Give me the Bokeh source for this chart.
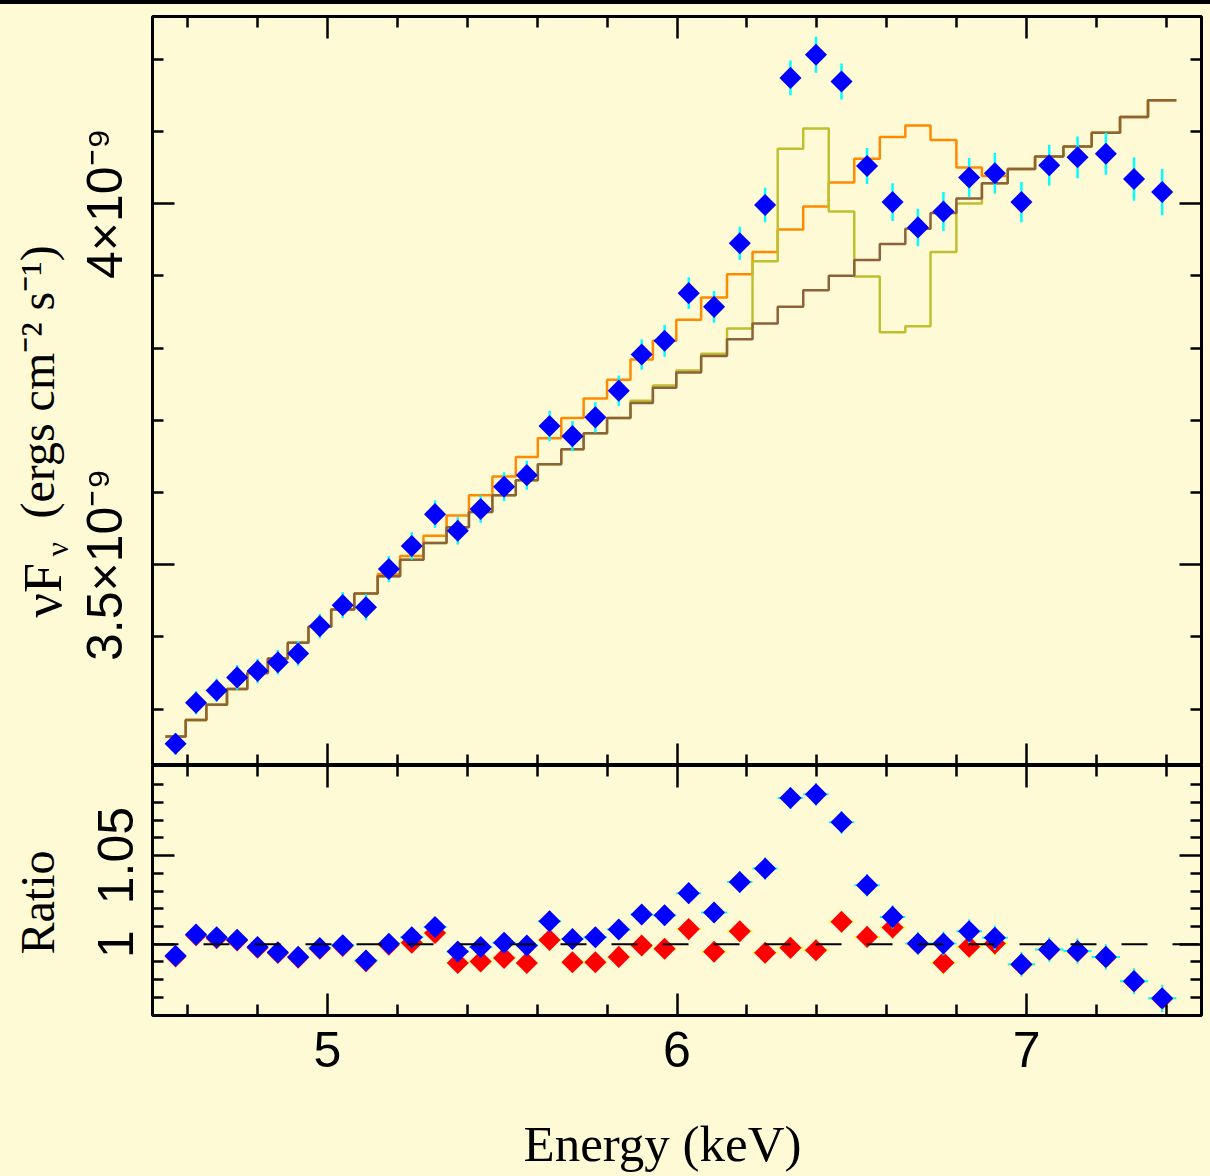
import numpy as np
from bokeh.plotting import figure
from bokeh.models import (ColumnDataSource, Range1d, LinearAxis, FixedTicker,
                          CustomJSTickFormatter, Span, Div)
from bokeh.core.properties import value
from bokeh.layouts import column, row
from bokeh.embed import file_html
from bokeh.resources import INLINE

# ---------------- data (energies in keV, fluxes in units of 1e-9 erg cm^-2 s^-1) -------------
bin_edges = [4.537, 4.595, 4.654, 4.713, 4.771, 4.830, 4.887, 4.946, 5.011, 5.077,
             5.144, 5.208, 5.275, 5.341, 5.405, 5.472, 5.539, 5.602, 5.669, 5.733,
             5.800, 5.867, 5.931, 5.998, 6.069, 6.143, 6.216, 6.288, 6.361, 6.434,
             6.507, 6.580, 6.653, 6.725, 6.799, 6.872, 6.946, 7.024, 7.105, 7.186,
             7.267, 7.347, 7.428]

flux = [3.252, 3.309, 3.326, 3.344, 3.353, 3.365, 3.377, 3.415, 3.444, 3.441,
        3.494, 3.526, 3.570, 3.547, 3.577, 3.608, 3.624, 3.692, 3.678, 3.704,
        3.741, 3.791, 3.810, 3.876, 3.857, 3.945, 3.998, 4.174, 4.206, 4.169,
        4.052, 4.002, 3.967, 3.989, 4.036, 4.042, 4.002, 4.053, 4.064, 4.069,
        4.034, 4.016]

flux_err = [0.015, 0.016, 0.016, 0.017, 0.017, 0.017, 0.017, 0.017, 0.018, 0.018,
            0.018, 0.019, 0.019, 0.019, 0.019, 0.020, 0.020, 0.021, 0.021, 0.021,
            0.021, 0.021, 0.022, 0.022, 0.022, 0.023, 0.024, 0.024, 0.025, 0.025,
            0.025, 0.026, 0.026, 0.027, 0.027, 0.028, 0.028, 0.028, 0.029, 0.029,
            0.030, 0.032]

model_continuum = [3.262, 3.285, 3.306, 3.328, 3.350, 3.370, 3.392, 3.414, 3.438, 3.460,
                   3.484, 3.507, 3.530, 3.552, 3.573, 3.596, 3.617, 3.639, 3.660, 3.682,
                   3.703, 3.724, 3.745, 3.766, 3.789, 3.812, 3.834, 3.857, 3.880, 3.900,
                   3.922, 3.944, 3.965, 3.987, 4.007, 4.028, 4.048, 4.065, 4.079, 4.098,
                   4.120, 4.143]

model_broad = [3.262, 3.285, 3.306, 3.328, 3.350, 3.370, 3.392, 3.414, 3.438, 3.460,
               3.487, 3.512, 3.540, 3.568, 3.596, 3.622, 3.649, 3.675, 3.703, 3.730,
               3.756, 3.784, 3.810, 3.839, 3.870, 3.902, 3.933, 3.964, 3.996, 4.029,
               4.062, 4.092, 4.108, 4.088, 4.050, 4.038, 4.048, 4.065, 4.079, 4.098,
               4.120, 4.143]

model_narrow = [3.262, 3.285, 3.306, 3.328, 3.350, 3.370, 3.392, 3.414, 3.438, 3.460,
                3.484, 3.507, 3.530, 3.552, 3.573, 3.596, 3.617, 3.639, 3.660, 3.682,
                3.703, 3.727, 3.748, 3.769, 3.792, 3.827, 3.920, 4.076, 4.104, 3.989,
                3.899, 3.822, 3.830, 3.933, 4.000, 4.028, 4.048, 4.065, 4.079, 4.098,
                4.120, 4.143]

ratio_blue = [0.9934, 1.0055, 1.0039, 1.0025, 0.9984, 0.9954, 0.9928, 0.9978, 0.9994, 0.9908,
              1.0002, 1.0039, 1.0097, 0.9958, 0.9984, 1.0008, 0.9992, 1.0129, 1.0029, 1.0039,
              1.0083, 1.0167, 1.0163, 1.0288, 1.0179, 1.0351, 1.0427, 1.0825, 1.0846, 1.0688,
              1.0333, 1.0154, 1.0004, 1.0004, 1.0073, 1.0036, 0.9886, 0.9970, 0.9961, 0.9928,
              0.9791, 0.9694]

ratio_red = [0.9930, 1.0050, 1.0034, 1.0021, 0.9980, 0.9950, 0.9924, 0.9974, 0.9990, 0.9903,
             0.9997, 1.0008, 1.0063, 0.9893, 0.9902, 0.9922, 0.9893, 1.0023, 0.9898, 0.9898,
             0.9928, 0.9992, 0.9974, 1.0085, 0.9957, 1.0073, 0.9951, 0.9979, 0.9966, 1.0126,
             1.0041, 1.0094, 1.0002, 0.9895, 0.9985, 1.0004, 0.9884, 0.9968, 0.9959, 0.9926,
             0.9789, 0.9692]

x_major = [5, 6, 7]
x_minor = [4.6, 4.8, 5.2, 5.4, 5.6, 5.8, 6.2, 6.4, 6.6, 6.8, 7.2, 7.4]
flux_major = [3.5, 4.0]
flux_minor = [3.3, 3.4, 3.6, 3.7, 3.8, 3.9, 4.1, 4.2]
ratio_major = [1.0, 1.05]
ratio_minor = [0.97, 0.98, 0.99, 1.01, 1.02, 1.03, 1.04, 1.06, 1.07, 1.08, 1.09]

# ---------------- derived columns -------------
edges = np.array(bin_edges)
lo, hi = edges[:-1], edges[1:]
centers = (lo + hi) / 2
f = np.array(flux)
fe = np.array(flux_err)
cont = np.array(model_continuum)
broad = np.array(model_broad)
rb = np.array(ratio_blue)
rr = np.array(ratio_red)
rbe = fe / cont
rre = fe / broad

src = ColumnDataSource(dict(x=centers, lo=lo, hi=hi, f=f, f0=f - fe, f1=f + fe,
                            rb=rb, rb0=rb - rbe, rb1=rb + rbe,
                            rr=rr, rr0=rr - rre, rr1=rr + rre))


def stepped(vals):
    return list(vals) + [vals[-1]]


BG = "#FFFAD6"
SANS = "Liberation Sans"
SERIF = "Liberation Serif"
xr = Range1d(4.5, 7.5)

TITLE_W = 74
MAIN_W = 1210 - TITLE_W
BOT_H = 345          # ratio frame (250 px) + tick-label strip
XT_H = 1176 - 4 - 761 - BOT_H


def make_fig(height, yr, mb_top, mb_bottom):
    return figure(width=MAIN_W, height=height, x_range=xr, y_range=yr,
                  output_backend="svg", toolbar_location=None,
                  x_axis_type=None, y_axis_type=None,
                  min_border_left=151 - TITLE_W, min_border_right=9,
                  min_border_top=mb_top, min_border_bottom=mb_bottom,
                  background_fill_color=BG, border_fill_color=BG,
                  outline_line_color="black", outline_line_width=3)


def add_axis(p, side, major, minor, code, size="0px", orient="horizontal", standoff=0):
    ax = LinearAxis(ticker=FixedTicker(ticks=major, minor_ticks=minor),
                    formatter=CustomJSTickFormatter(code=code),
                    axis_line_color=None,
                    major_tick_in=22, major_tick_out=0,
                    minor_tick_in=11, minor_tick_out=0,
                    major_tick_line_width=2.5, minor_tick_line_width=2.5,
                    major_tick_line_color="black", minor_tick_line_color="black",
                    major_label_text_font=SANS, major_label_text_font_size=size,
                    major_label_text_color="black",
                    major_label_standoff=standoff,
                    major_label_orientation=orient)
    p.add_layout(ax, side)
    return ax


EMPTY = "return '';"

# ---------------- top panel -------------
top = make_fig(761, Range1d(3.222, 4.259), 12, 0)
add_axis(top, "left", flux_major, flux_minor,
         "if (Math.abs(tick-4)<1e-6) return '4×10⁻⁹'; if (Math.abs(tick-3.5)<1e-6) return '3.5×10⁻⁹'; return '';",
         size="50px", orient="vertical", standoff=19)
add_axis(top, "right", flux_major, flux_minor, EMPTY)
add_axis(top, "above", x_major, x_minor, EMPTY)
add_axis(top, "below", x_major, x_minor, EMPTY)

top.step(x=bin_edges, y=stepped(model_broad), mode="after", line_color="#FF8A00", line_width=2.5)
top.step(x=bin_edges, y=stepped(model_narrow), mode="after", line_color="#BFBF30", line_width=2.5)
top.step(x=bin_edges, y=stepped(model_continuum), mode="after", line_color="#8C6239", line_width=2.5)
top.segment(x0="x", y0="f0", x1="x", y1="f1", source=src, line_color="#00FFFF", line_width=2.5)
top.scatter(x="x", y="f", source=src, marker="square", size=15.6, angle=np.pi / 4,
            fill_color="#0000FF", line_color=None)

# ---------------- ratio panel -------------
bot = make_fig(BOT_H, Range1d(0.9597, 1.1009), 0, BOT_H - 250)
add_axis(bot, "left", ratio_major, ratio_minor,
         "if (Math.abs(tick-1)<1e-6) return '1'; if (Math.abs(tick-1.05)<1e-6) return '1.05'; return '';",
         size="50px", orient="vertical", standoff=19)
add_axis(bot, "right", ratio_major, ratio_minor, EMPTY)
add_axis(bot, "above", x_major, x_minor, EMPTY)
add_axis(bot, "below", x_major, x_minor, "return tick.toFixed(0);", size="50px", standoff=16)

bot.add_layout(Span(location=1.0, dimension="width", line_color="black",
                    line_width=2, line_dash="26 25"))
bot.segment(x0="lo", y0="rr", x1="hi", y1="rr", source=src, line_color="#FFFF00", line_width=2)
bot.segment(x0="x", y0="rr0", x1="x", y1="rr1", source=src, line_color="#FFFF00", line_width=2)
bot.scatter(x="x", y="rr", source=src, marker="square", size=15.6, angle=np.pi / 4,
            fill_color="#FF0000", line_color=None)
bot.segment(x0="lo", y0="rb", x1="hi", y1="rb", source=src, line_color="#00FFFF", line_width=2)
bot.segment(x0="x", y0="rb0", x1="x", y1="rb1", source=src, line_color="#00FFFF", line_width=2)
bot.scatter(x="x", y="rb", source=src, marker="square", size=15.6, angle=np.pi / 4,
            fill_color="#0000FF", line_color=None)


# ---------------- title strips (page pixel coordinates) -------------
def strip(w, h, y_top, y_bottom):
    return figure(width=w, height=h, x_range=Range1d(0, w), y_range=Range1d(y_bottom, y_top),
                  output_backend="svg", toolbar_location=None, x_axis_type=None, y_axis_type=None,
                  min_border=0, min_border_left=0, min_border_right=0, min_border_top=0,
                  min_border_bottom=0, background_fill_color=BG, border_fill_color=BG,
                  outline_line_color=None)


tfig = strip(TITLE_W, 761 + BOT_H, 4, 4 + 761 + BOT_H)
xfig = strip(1210, XT_H, 1176 - XT_H, 1176)


def title_text(fig, x, y, txt, size, align="left", angle=np.pi / 2):
    fig.text(x=[x], y=[y], text=[txt], angle=angle, text_font=value(SERIF),
             text_font_size=size, text_align=align, text_baseline="alphabetic",
             text_color="black")


# anchors are placed ~1/3 em above the wanted baseline (empirical offset of the renderer)
title_text(tfig, 42, 617, "νF", "54px")
title_text(tfig, 56, 556, "ν", "32px")
title_text(tfig, 37, 518, "(ergs cm⁻² s⁻¹)", "48px")
title_text(tfig, 37, 902, "Ratio", "48px", align="center")
title_text(xfig, 662, 1143, "Energy (keV)", "51px", align="center", angle=0)

bgstyle = {"background-color": BG}
bar = Div(width=1210, height=4, margin=0, styles={"background-color": "black"})
plots = column(top, bot, spacing=0, styles=bgstyle)
mid = row(tfig, plots, spacing=0, styles=bgstyle)
layout = column(bar, mid, xfig, spacing=0, styles=bgstyle)

open("out.html", "w").write(file_html(layout, INLINE))
